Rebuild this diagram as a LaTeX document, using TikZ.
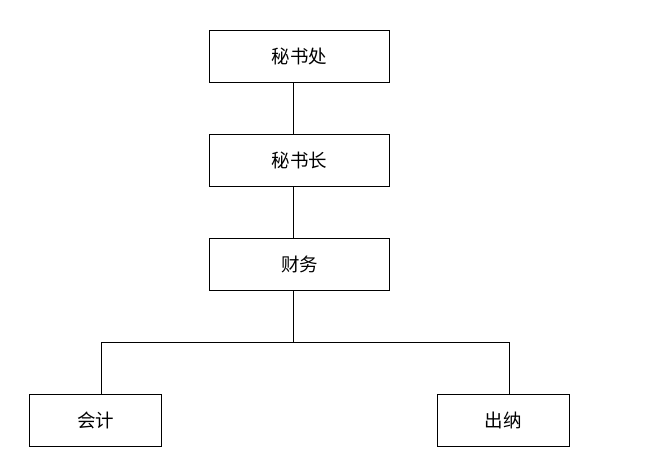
\documentclass[tikz,border=0pt]{standalone}
\usepackage{fontspec}
\setmainfont{Noto Sans CJK SC}
\usetikzlibrary{positioning}

\begin{document}
\begin{tikzpicture}[x=1pt, y=-1pt, line width=0.8pt,
    post/.style={draw, minimum width=180pt, minimum height=52pt, inner sep=0pt,
                 font=\fontsize{18.5}{20}\selectfont}]
  \useasboundingbox[fill=white] (0,0) rectangle (669,476);
  \node[post] (mishuchu)   at (299.5,56) {秘书处};
  \node[post] (mishuzhang) at (299.5,160) {秘书长};
  \node[post] (caiwu)      at (299.5,264) {财务};
  \node[post, minimum width=132pt] (kuaiji) at (95.5,420) {会计};
  \node[post, minimum width=132pt] (chuna)  at (503,420) {出纳};
  \coordinate (trunk) at (293,342);
  \coordinate (jl) at (101,342);
  \coordinate (jr) at (509,342);
  \draw (mishuchu.south -| trunk) -- (mishuzhang.north -| trunk);
  \draw (mishuzhang.south -| trunk) -- (caiwu.north -| trunk);
  \draw (caiwu.south -| trunk) -- (trunk);
  \draw (jl) -- (jr);
  \draw (jl) -- (kuaiji.north -| jl);
  \draw (jr) -- (chuna.north -| jr);
\end{tikzpicture}
\end{document}
